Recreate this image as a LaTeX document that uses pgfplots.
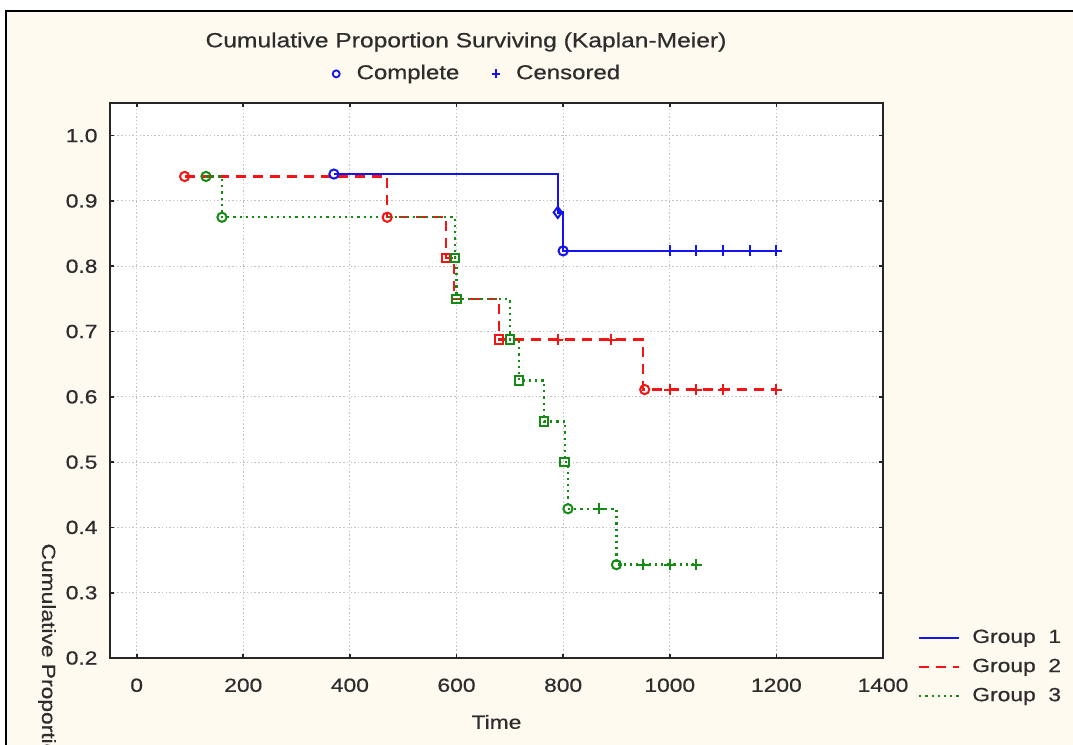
\documentclass[border=0pt]{standalone}
\usepackage{pgfplots}
\pgfplotsset{compat=1.18}
\usepackage{fontspec}
\setmainfont{Liberation Sans}[FakeStretch=1.2, FakeBold=0.6]
\definecolor{cream}{RGB}{254,250,240}
\definecolor{kmblue}{RGB}{20,20,240}
\definecolor{kmred}{RGB}{245,20,20}
\definecolor{kmgreen}{RGB}{20,140,20}
\definecolor{txt}{RGB}{45,45,45}
\definecolor{gridc}{RGB}{195,195,195}
\begin{document}
\fontsize{19bp}{23bp}\selectfont
\begin{tikzpicture}
\fill[white] (0,0) rectangle (1073bp,745bp);
\fill[cream] (6bp,0) rectangle (1073bp,734bp);
\draw[black,line width=2.2bp] (6bp,0) -- (6bp,734bp) -- (1073bp,734bp);
\begin{axis}[
  at={(110bp,87bp)}, anchor=south west,
  width=773bp, height=555bp, scale only axis,
  xmin=-50, xmax=1400, ymin=0.2, ymax=1.05,
  xtick={0,200,...,1400}, ytick={0.2,0.3,...,1.0},
  /pgf/number format/assume math mode=true,
  yticklabel={\pgfmathprintnumber[fixed, fixed zerofill, precision=1]{\tick}},
  xticklabel={\pgfmathprintnumber[fixed, 1000 sep={}]{\tick}},
  tick label style={text=txt, font=\fontsize{19bp}{23bp}\selectfont},
  yticklabel style={xshift=-6bp},
  xticklabel style={yshift=-14bp},
  axis line style={line width=1.9bp, black!85},
  tick style={line width=1.7bp, black!85},
  tick align=inside, major tick length=4bp,
  grid=major,
  major grid style={gridc, line width=1.1bp, dash pattern=on 1.5bp off 2.2bp},
  axis background/.style={fill=white},
  xlabel={Time},
  xlabel style={at={(axis description cs:0.5,0)}, anchor=center, yshift=-64bp, text=txt},
  clip=false,
  legend style={draw=none, fill=none, at={(axis description cs:1.045,0.055)}, anchor=north west,
    font=\fontsize{19bp}{23bp}\selectfont, text=txt, row sep=9bp, inner sep=0pt,
    nodes={inner xsep=12bp}},
  legend cell align=left,
  legend image code/.code={\draw[#1] (0bp,0bp) -- (40bp,0bp);},
]
% Group 1
\addplot[const plot, kmblue, line width=2.4bp] coordinates {
 (370,0.9412) (790,0.8824) (800,0.8235) (1200,0.8235)};
\addlegendentry{Group\ \ 1}
% Group 2
\addplot[const plot, kmred, line width=2.4bp, dash pattern=on 10bp off 7bp] coordinates {
 (90,0.9375) (470,0.875) (580,0.8125) (595,0.75) (680,0.6875) (950,0.6111) (1200,0.6111)};
\addlegendentry{Group\ \ 2}
% Group 3
\addplot[const plot, kmgreen, line width=2.4bp, dash pattern=on 2.2bp off 4bp] coordinates {
 (130,0.9375) (160,0.875) (597,0.8125) (600,0.75) (700,0.6875) (717,0.625) (764,0.5625) (803,0.5) (809,0.4286) (900,0.3429) (1050,0.3429)};
\addlegendentry{Group\ \ 3}
% complete markers
\addplot[forget plot, only marks, kmblue, mark=o, mark size=4.6bp, mark options={line width=2bp, fill=white, solid}] coordinates {(370,0.9412) (800,0.8235)};
\addplot[forget plot, only marks, kmblue, mark=diamond, mark size=5.5bp, mark options={line width=2bp, fill=white, solid}] coordinates {(790,0.8824)};
\addplot[forget plot, only marks, kmred, mark=o, mark size=4.6bp, mark options={line width=2bp, fill=white, solid}] coordinates {(90,0.9375) (470,0.875) (953,0.6111)};
\addplot[forget plot, only marks, kmred, mark=square, mark size=4.3bp, mark options={line width=2bp, fill=white, solid}] coordinates {(580,0.8125) (680,0.6875)};
\addplot[forget plot, only marks, kmgreen, mark=o, mark size=4.6bp, mark options={line width=2bp, fill=white, solid}] coordinates {(130,0.9375) (160,0.875) (809,0.4286) (900,0.3429)};
\addplot[forget plot, only marks, kmgreen, mark=square, mark size=4.3bp, mark options={line width=2bp, fill=white, solid}] coordinates {(597,0.8125) (600,0.75) (700,0.6875) (717,0.625) (764,0.5625) (803,0.5)};
% censored markers
\addplot[forget plot, only marks, kmblue, mark=+, mark size=5.5bp, mark options={line width=2bp, solid}] coordinates {(1000,0.8235) (1050,0.8235) (1100,0.8235) (1150,0.8235) (1200,0.8235)};
\addplot[forget plot, only marks, kmred, mark=+, mark size=5.5bp, mark options={line width=2bp, solid}] coordinates {(790,0.6875) (890,0.6875) (1000,0.6111) (1050,0.6111) (1100,0.6111) (1200,0.6111)};
\addplot[forget plot, only marks, kmgreen, mark=+, mark size=5.5bp, mark options={line width=2bp, solid}] coordinates {(868,0.4286) (950,0.3429) (1000,0.3429) (1050,0.3429)};
\end{axis}
\node[text=txt, font=\fontsize{20.5bp}{24bp}\selectfont] at (466bp,703bp) {Cumulative Proportion Surviving (Kaplan-Meier)};
\node[text=txt, font=\fontsize{20bp}{24bp}\selectfont] at (476bp,671bp) {\tikz[baseline=-0.5ex]\draw[kmblue,line width=1.8bp] (0,0) circle (3.5bp);\hspace{16bp}Complete\hspace{32bp}\tikz[baseline=-0.5ex]{\draw[kmblue,line width=1.8bp] (-4bp,0)--(4bp,0) (0,-4.5bp)--(0,4.5bp);}\hspace{15bp}Censored};
\node[text=txt, rotate=-90, anchor=west, font=\fontsize{19bp}{23bp}\selectfont] at (47bp,208bp) {Cumulative Proportion};
\pgfresetboundingbox
\path[use as bounding box] (0,0) rectangle (1073bp,745bp);
\end{tikzpicture}
\end{document}
